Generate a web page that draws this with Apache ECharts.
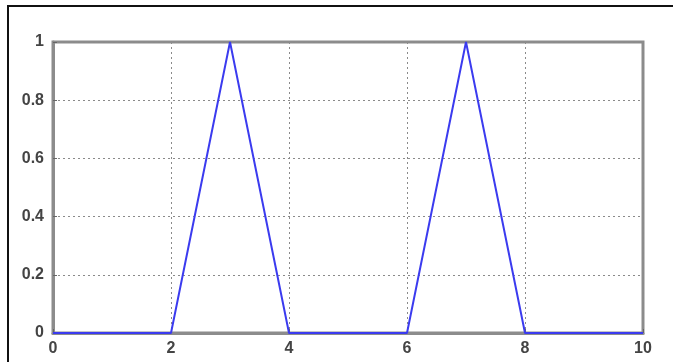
<!DOCTYPE html>
<html><head><meta charset="utf-8">
<script src="https://cdn.jsdelivr.net/npm/echarts@6/dist/echarts.min.js"></script>
<style>html,body{margin:0;padding:0;background:#fff}#c{width:673px;height:362px}</style>
</head><body><div id="c"></div>
<script>
var xValues = [0, 2, 3, 4, 6, 7, 8, 10];
var yValues = [0, 0, 1, 0, 0, 1, 0, 0];
var xTicks = [0, 2, 4, 6, 8, 10];
var yTicks = [0, 0.2, 0.4, 0.6, 0.8, 1];

var chart = echarts.init(document.getElementById('c'));
var labelStyle = {color: '#444', fontSize: 16, fontWeight: 'bold', fontFamily: 'Liberation Sans, Arial, sans-serif'};
chart.setOption({
  animation: false,
  backgroundColor: '#fff',
  graphic: [{type: 'rect', shape: {x: 8, y: 6, width: 720, height: 420}, style: {fill: 'none', stroke: '#111', lineWidth: 2}, silent: true}],
  grid: {left: 53, right: 30, top: 42, bottom: 29, show: true, borderColor: '#8c8c8c', borderWidth: 3, containLabel: false},
  xAxis: {
    type: 'value', min: 0, max: 10, interval: 2,
    axisLine: {show: true, lineStyle: {color: '#8c8c8c', width: 3}},
    axisTick: {show: true, inside: true, length: 4, lineStyle: {color: '#666'}},
    axisLabel: Object.assign({margin: 8, formatter: function (v) { return xTicks.indexOf(v) >= 0 ? String(v) : ''; }}, labelStyle),
    splitLine: {show: true, lineStyle: {color: '#8a8a8a', type: [2, 3], width: 1}}
  },
  yAxis: {
    type: 'value', min: 0, max: 1, interval: 0.2,
    axisLine: {show: true, lineStyle: {color: '#8c8c8c', width: 3}},
    axisTick: {show: true, inside: true, length: 4, lineStyle: {color: '#666'}},
    axisLabel: Object.assign({margin: 9, formatter: function (v) { var r = Math.round(v * 10) / 10; return yTicks.indexOf(r) >= 0 ? String(r) : ''; }}, labelStyle),
    splitLine: {show: true, lineStyle: {color: '#8a8a8a', type: [2, 3], width: 1}}
  },
  series: [{
    type: 'line',
    data: xValues.map(function (x, i) { return [x, yValues[i]]; }),
    showSymbol: false,
    lineStyle: {color: '#3b3bef', width: 2},
    z: 5
  }]
});
</script></body></html>
